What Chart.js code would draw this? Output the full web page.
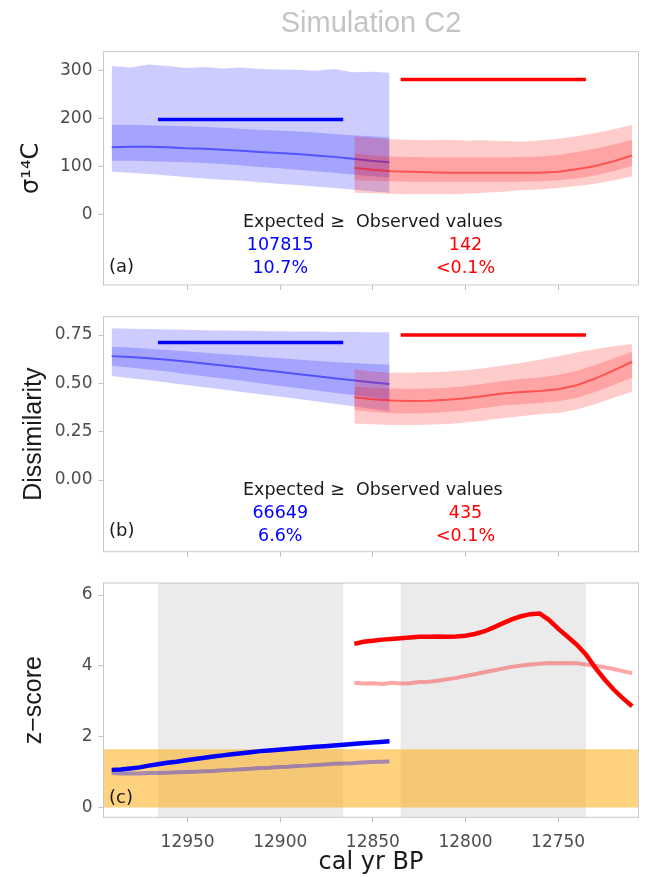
<!DOCTYPE html>
<html>
<head>
<meta charset="utf-8">
<title>Simulation C2</title>
<script src="https://cdn.jsdelivr.net/npm/chart.js@4.4.1/dist/chart.umd.min.js"></script>
<style>
  html, body { margin: 0; padding: 0; background: #fff; }
  #wrap { position: relative; width: 645px; height: 877px; }
  canvas { position: absolute; left: 0; }
</style>
</head>
<body>
<div id="wrap">
  <canvas id="panelA" width="645" height="300" style="top:0"></canvas>
  <canvas id="panelB" width="645" height="260" style="top:300px"></canvas>
  <canvas id="panelC" width="645" height="317" style="top:560px"></canvas>
</div>
<script>
'use strict';

// x axis: cal yr BP, drawn reversed
const yearMax = 12995.4;
const yearMin = 12706.6;
const yearTicks = [12950, 12900, 12850, 12800, 12750];

const blueYears = [12991, 12981, 12971, 12961, 12951, 12941, 12931, 12921, 12911, 12901, 12891, 12881, 12871, 12861, 12851, 12841];
const redYears = [12860, 12850, 12840, 12830, 12820, 12810, 12800, 12790, 12780, 12770, 12760, 12750, 12740, 12730, 12720, 12710];

// observed windows (also the grey bands of panel c)
const obsBlueYears = [12966, 12866];
const obsRedYears = [12835, 12735];

// (a) sigma 14C
const sigTicks = [0, 100, 200, 300];
const sigBlueMid = [140, 141, 141, 140, 138, 137, 135, 133, 130, 128, 126, 123, 120, 116, 112, 109];
const sigBlueInHi = [187, 187, 186, 185, 184, 183, 181, 179, 177, 175, 173, 171, 168, 165, 163, 161];
const sigBlueInLo = [112, 112, 111, 110, 109, 107, 105, 102, 99, 96, 93, 90, 87, 83, 80, 77];
const sigBlueOutHi = [310, 307, 313, 310, 306, 308, 305, 307, 304, 303, 302, 300, 304, 297, 298, 296];
const sigBlueOutLo = [89, 87, 84, 81, 78, 75, 72, 70, 67, 64, 61, 58, 55, 52, 48, 45];
const sigRedMid = [97, 93, 90, 89, 88, 87, 87, 87, 87, 87, 87, 89, 94, 101, 111, 123];
const sigRedInHi = [127, 123, 121, 120, 119, 119, 119, 119, 119, 120, 121, 124, 130, 137, 146, 156];
const sigRedInLo = [71, 70, 69, 68, 68, 68, 68, 68, 68, 68, 69, 71, 75, 81, 90, 101];
const sigRedOutHi = [163, 160, 157, 156, 155, 156, 154, 155, 153, 152, 154, 158, 163, 170, 178, 187];
const sigRedOutLo = [45, 44, 43, 42, 42, 42, 43, 45, 47, 50, 52, 55, 59, 64, 71, 79];
const sigObs = [198, 282];
const countsA = ['107815', '142'];
const pctA = ['10.7%', '<0.1%'];

// (b) dissimilarity
const disTicks = [0, 0.25, 0.5, 0.75];
const disBlueMid = [0.641, 0.636, 0.630, 0.622, 0.613, 0.603, 0.592, 0.582, 0.570, 0.560, 0.549, 0.538, 0.526, 0.516, 0.506, 0.497];
const disBlueInHi = [0.690, 0.685, 0.679, 0.673, 0.666, 0.659, 0.652, 0.645, 0.638, 0.631, 0.624, 0.617, 0.611, 0.605, 0.600, 0.596];
const disBlueInLo = [0.591, 0.582, 0.572, 0.561, 0.549, 0.537, 0.525, 0.513, 0.500, 0.488, 0.476, 0.464, 0.452, 0.440, 0.428, 0.416];
const disBlueOutHi = [0.785, 0.783, 0.782, 0.779, 0.778, 0.775, 0.774, 0.772, 0.771, 0.770, 0.768, 0.768, 0.766, 0.766, 0.765, 0.764];
const disBlueOutLo = [0.538, 0.527, 0.516, 0.504, 0.492, 0.480, 0.468, 0.456, 0.444, 0.432, 0.420, 0.408, 0.395, 0.382, 0.369, 0.355];
const disRedMid = [0.428, 0.418, 0.411, 0.409, 0.410, 0.415, 0.423, 0.435, 0.448, 0.455, 0.460, 0.470, 0.490, 0.525, 0.567, 0.612];
const disRedInHi = [0.483, 0.478, 0.474, 0.472, 0.473, 0.478, 0.486, 0.498, 0.512, 0.522, 0.530, 0.543, 0.565, 0.595, 0.630, 0.664];
const disRedInLo = [0.362, 0.352, 0.345, 0.344, 0.347, 0.352, 0.360, 0.372, 0.385, 0.392, 0.398, 0.407, 0.424, 0.455, 0.492, 0.531];
const disRedOutHi = [0.573, 0.562, 0.555, 0.556, 0.558, 0.562, 0.568, 0.578, 0.592, 0.606, 0.622, 0.640, 0.660, 0.678, 0.692, 0.704];
const disRedOutLo = [0.293, 0.288, 0.284, 0.284, 0.286, 0.290, 0.297, 0.308, 0.320, 0.330, 0.340, 0.347, 0.365, 0.392, 0.425, 0.457];
const disObs = [0.711, 0.750];
const countsB = ['66649', '435'];
const pctB = ['6.6%', '<0.1%'];

// (c) z-score
const zTicks = [0, 2, 4, 6];
const zThreshold = 1.645;
const zBlueYears = [12991, 12986, 12981, 12976, 12971, 12966, 12961, 12956, 12951, 12946, 12941, 12936, 12931, 12926, 12921, 12916,
	12911, 12906, 12901, 12896, 12891, 12886, 12881, 12876, 12871, 12866, 12861, 12856, 12851, 12846, 12841];
const zBlue = [1.06, 1.07, 1.10, 1.13, 1.18, 1.22, 1.26, 1.29, 1.33, 1.37, 1.40, 1.44, 1.47, 1.50, 1.53, 1.56,
	1.59, 1.61, 1.63, 1.65, 1.67, 1.69, 1.71, 1.73, 1.75, 1.77, 1.79, 1.81, 1.83, 1.85, 1.87];
const zBluePale = [0.97, 0.96, 0.96, 0.96, 0.97, 0.97, 0.98, 0.99, 1.00, 1.01, 1.02, 1.03, 1.05, 1.06, 1.08, 1.09,
	1.11, 1.12, 1.14, 1.15, 1.17, 1.18, 1.20, 1.21, 1.23, 1.24, 1.25, 1.27, 1.28, 1.29, 1.30];
const zRedYears = [12860, 12855, 12850, 12845, 12840, 12835, 12830, 12825, 12820, 12815, 12810, 12805, 12800, 12795, 12790, 12785,
	12780, 12775, 12770, 12765, 12760, 12755, 12750, 12745, 12740, 12735, 12730, 12725, 12720, 12715, 12710];
const zRed = [4.62, 4.68, 4.71, 4.74, 4.76, 4.78, 4.80, 4.82, 4.82, 4.83, 4.82, 4.83, 4.85, 4.90, 4.97, 5.08,
	5.20, 5.31, 5.40, 5.46, 5.48, 5.30, 5.05, 4.83, 4.60, 4.32, 3.95, 3.62, 3.33, 3.08, 2.86];
const zRedPale = [3.52, 3.50, 3.51, 3.49, 3.52, 3.50, 3.51, 3.54, 3.55, 3.58, 3.62, 3.66, 3.71, 3.76, 3.82, 3.87,
	3.92, 3.97, 4.01, 4.04, 4.06, 4.08, 4.07, 4.08, 4.07, 4.04, 4.00, 3.96, 3.91, 3.85, 3.79];

const headerText = 'Expected \u2265  Observed values';

const BLUE = '#0000FF';
const RED = '#FF0000';
const blueFill = 'rgba(0, 0, 255, 0.2)';
const redFill = 'rgba(255, 0, 0, 0.2)';
const blueMid = 'rgba(0, 0, 255, 0.5)';
const redMid = 'rgba(255, 0, 0, 0.5)';
const INK = '#1A1A1A';
const TICK_INK = '#4D4D4D';
const FRAME = '#C8C8C8';
const SANS = 'DejaVu Sans';
const ARIAL = 'Liberation Sans';

Chart.defaults.font.family = SANS;

let pts = (xs, ys) => xs.map((x, i) => ({x: x, y: ys[i]}));

let line = (xs, ys, color, width) => ({
	data: pts(xs, ys), borderColor: color, borderWidth: width,
	pointRadius: 0, fill: false, tension: 0
});

let seg = (xs, y, color) => ({
	data: pts(xs, [y, y]), borderColor: color, borderWidth: 3.5,
	borderCapStyle: 'butt', pointRadius: 0, fill: false
});

let band = (xs, hi, lo, color) => [
	{data: pts(xs, hi), borderWidth: 0, pointRadius: 0, fill: '+1', backgroundColor: color},
	{data: pts(xs, lo), borderWidth: 0, pointRadius: 0, fill: false}
];

// grey windows, in-panel text and the panel frame
const panelDeco = {
	id: 'panelDeco',
	beforeDatasetsDraw(chart, args, opts) {
		if (!opts.windows) return;
		let {ctx, chartArea: area, scales: {x}} = chart;
		ctx.save();
		ctx.fillStyle = '#EBEBEB';
		opts.windows.forEach((w) => {
			let a = x.getPixelForValue(w[0]);
			let b = x.getPixelForValue(w[1]);
			ctx.fillRect(Math.min(a, b), area.top, Math.abs(b - a), area.bottom - area.top);
		});
		ctx.restore();
	},
	afterDraw(chart, args, opts) {
		let {ctx, chartArea: area, scales: {x, y}} = chart;
		ctx.save();
		ctx.textBaseline = 'middle';
		(opts.texts || []).forEach((t) => {
			ctx.font = (t.size || 17.5) + 'px "' + SANS + '"';
			ctx.fillStyle = t.color;
			ctx.textAlign = t.align || 'center';
			ctx.fillText(t.text, x.getPixelForValue(t.x), y.getPixelForValue(t.y));
		});
		ctx.strokeStyle = FRAME;
		ctx.lineWidth = 1;
		ctx.strokeRect(area.left, area.top, area.right - area.left, area.bottom - area.top);
		ctx.restore();
	}
};
Chart.register(panelDeco);

let statTexts = (rows, counts, pcts, label) => [
	{text: headerText, x: 12850, y: rows[0], color: INK},
	{text: counts[0], x: 12900, y: rows[1], color: BLUE},
	{text: pcts[0], x: 12900, y: rows[2], color: BLUE},
	{text: counts[1], x: 12800, y: rows[1], color: RED},
	{text: pcts[1], x: 12800, y: rows[2], color: RED},
	{text: label, x: 12992.4, y: rows[3], color: INK, align: 'left', size: 18}
];

let makeChart = (id, cfg) => new Chart(document.getElementById(id), {
	type: 'line',
	data: {datasets: cfg.datasets},
	options: {
		responsive: false,
		animation: false,
		events: [],
		layout: {padding: {left: 0, right: 6.5, top: cfg.padTop, bottom: 0}},
		plugins: {
			legend: {display: false},
			tooltip: {enabled: false},
			title: cfg.title || {display: false},
			panelDeco: {texts: cfg.texts, windows: cfg.windows}
		},
		scales: {
			x: {
				type: 'linear', reverse: true, min: yearMin, max: yearMax,
				afterBuildTicks: (s) => { s.ticks = yearTicks.map((v) => ({value: v})); },
				afterFit: (s) => { s.height = cfg.xHeight; s.paddingLeft = 0; s.paddingRight = 0; },
				grid: {drawOnChartArea: false, drawTicks: true, tickLength: 5, color: '#BEBEBE'},
				border: {display: false},
				ticks: {
					display: !!cfg.xTitle, color: TICK_INK, padding: 10, maxRotation: 0,
					font: {family: SANS, size: 17}, callback: (v) => String(v)
				},
				title: cfg.xTitle ? {
					display: true, text: cfg.xTitle, color: INK,
					font: {family: SANS, size: 24}, padding: {top: 0, bottom: 0}
				} : {display: false}
			},
			y: {
				type: 'linear', min: cfg.yMin, max: cfg.yMax,
				afterBuildTicks: (s) => { s.ticks = cfg.yTicks.map((v) => ({value: v})); },
				afterFit: (s) => { s.width = 103.5; s.paddingTop = 0; s.paddingBottom = 0; },
				grid: {drawOnChartArea: false, drawTicks: true, tickLength: 5, color: '#BEBEBE'},
				border: {display: false},
				ticks: {
					color: TICK_INK, padding: 6,
					font: {family: SANS, size: 17}, callback: cfg.yFormat
				},
				title: {
					display: true, text: cfg.yTitle, color: INK,
					font: {family: cfg.yTitleFont, size: cfg.yTitleSize}, padding: {top: cfg.yTitlePad, bottom: 0}
				}
			}
		}
	}
});

makeChart('panelA', {
	padTop: 0, xHeight: 15,
	yMin: -148, yMax: 340, yTicks: sigTicks, yFormat: (v) => String(v),
	yTitle: '\u03C3\u00B9\u2074C', yTitleFont: SANS, yTitleSize: 24, yTitlePad: 17.6,
	title: {
		display: true, text: 'Simulation C2', fullSize: false, color: '#C4C4C4',
		font: {family: ARIAL, size: 29, weight: 'normal'}, padding: {top: 6.6, bottom: 10.3}
	},
	texts: statTexts([-17.6, -64.4, -114, -111], countsA, pctA, '(a)'),
	datasets: [
		seg(obsBlueYears, sigObs[0], BLUE),
		seg(obsRedYears, sigObs[1], RED),
		line(redYears, sigRedMid, redMid, 2),
		...band(redYears, sigRedInHi, sigRedInLo, redFill),
		...band(redYears, sigRedOutHi, sigRedOutLo, redFill),
		line(blueYears, sigBlueMid, blueMid, 2),
		...band(blueYears, sigBlueInHi, sigBlueInLo, blueFill),
		...band(blueYears, sigBlueOutHi, sigBlueOutLo, blueFill)
	]
});

makeChart('panelB', {
	padTop: 16.7, xHeight: 8.3,
	yMin: -0.371, yMax: 0.845, yTicks: disTicks, yFormat: (v) => v.toFixed(2),
	yTitle: 'Dissimilarity', yTitleFont: ARIAL, yTitleSize: 25, yTitlePad: 19,
	texts: statTexts([-0.052, -0.172, -0.291, -0.263], countsB, pctB, '(b)'),
	datasets: [
		seg(obsBlueYears, disObs[0], BLUE),
		seg(obsRedYears, disObs[1], RED),
		line(redYears, disRedMid, redMid, 2),
		...band(redYears, disRedInHi, disRedInLo, redFill),
		...band(redYears, disRedOutHi, disRedOutLo, redFill),
		line(blueYears, disBlueMid, blueMid, 2),
		...band(blueYears, disBlueInHi, disBlueInLo, blueFill),
		...band(blueYears, disBlueOutHi, disBlueOutLo, blueFill)
	]
});

makeChart('panelC', {
	padTop: 23, xHeight: 59.7, xTitle: 'cal yr BP',
	yMin: -0.28, yMax: 6.34, yTicks: zTicks, yFormat: (v) => String(v),
	yTitle: 'z\u2212score', yTitleFont: ARIAL, yTitleSize: 25, yTitlePad: 19,
	windows: [obsBlueYears, obsRedYears],
	texts: [{text: '(c)', x: 12992.4, y: 0.27, color: INK, align: 'left', size: 18}],
	datasets: [
		line(zRedYears, zRed, RED, 4.5),
		line(zBlueYears, zBlue, BLUE, 4.5),
		line(zRedYears, zRedPale, 'rgba(255, 0, 0, 0.35)', 4),
		line(zBlueYears, zBluePale, 'rgba(0, 0, 255, 0.35)', 4),
		{
			data: pts([yearMax, yearMin], [zThreshold, zThreshold]),
			borderWidth: 0, pointRadius: 0, fill: 'origin',
			backgroundColor: 'rgba(255, 165, 0, 0.5)'
		}
	]
});
</script>
</body>
</html>
